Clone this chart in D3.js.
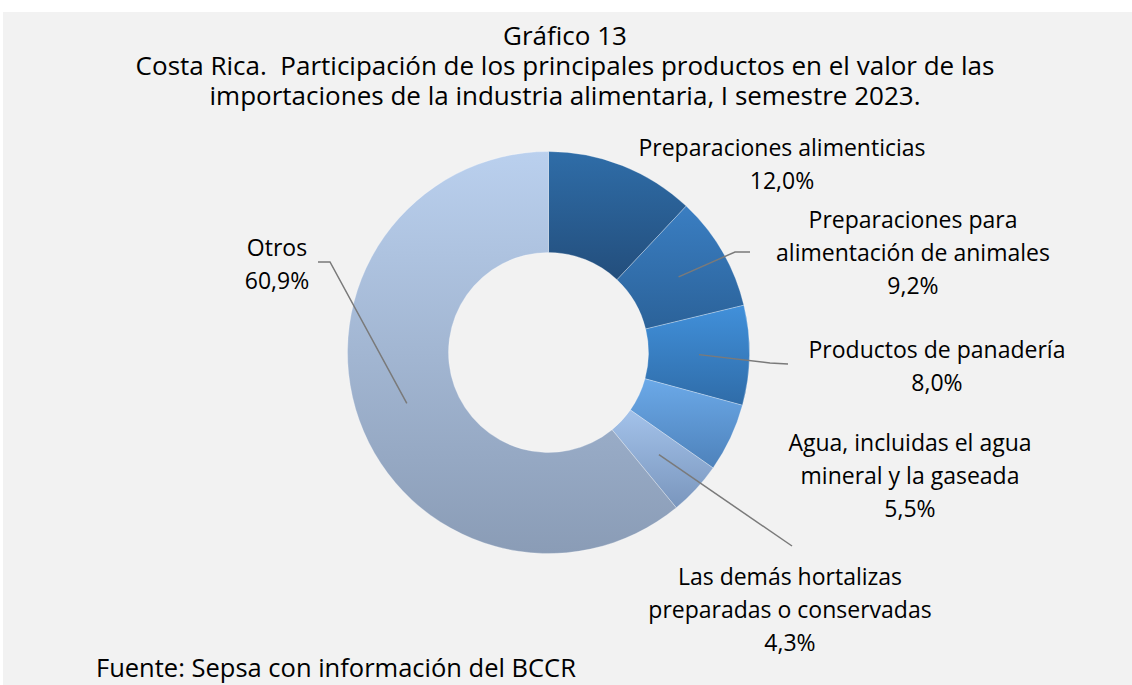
<!DOCTYPE html>
<html>
<head>
<meta charset="utf-8">
<script src="https://cdn.jsdelivr.net/npm/d3@7"></script>
<style>
  body { margin: 0; background: #ffffff; }
  svg { display: block; }
  text { font-family: "Open Sans", Lato, sans-serif; fill: #000; white-space: pre; }
</style>
</head>
<body>
<div id="chart"></div>
<script>
// Data
const categories = [
    ["Preparaciones alimenticias"],
    ["Preparaciones para", "alimentación de animales"],
    ["Productos de panadería"],
    ["Agua, incluidas el agua", "mineral y la gaseada"],
    ["Las demás hortalizas", "preparadas o conservadas"],
    ["Otros"]
];
const values = [12.0, 9.2, 8.0, 5.5, 4.3, 60.9];
const valueLabels = ["12,0%", "9,2%", "8,0%", "5,5%", "4,3%", "60,9%"];
const titleLines = [
    "Gráfico 13",
    "Costa Rica.  Participación de los principales productos en el valor de las",
    "importaciones de la industria alimentaria, I semestre 2023."
];
const sourceText = "Fuente: Sepsa con información del BCCR";

// Colors (top, bottom) for each slice gradient
const sliceColors = [
    ["#2f6da8", "#234e7c"],
    ["#3a7ec2", "#2b6299"],
    ["#4190da", "#2f6ca8"],
    ["#6ba9e8", "#4e82bb"],
    ["#a3c2ea", "#7a96bd"],
    ["#bad0ee", "#8a9cb6"]
];

const W = 1132, H = 685;
const cx = 548.5, cy = 352.5, rOuter = 201, rInner = 100;

// Label layout: center x, first line y; leader: elbow points (null = no leader)
const labelPos = [
    { x: 782, y: 156, leader: null },
    { x: 913, y: 228, leader: [[735, 252], [750, 252]] },
    { x: 937, y: 358, leader: [[770, 363], [788, 364]] },
    { x: 910, y: 451, leader: null },
    { x: 790, y: 585, leader: [[792, 546]] },
    { x: 277, y: 256, leader: [[330, 262], [318, 262]] }
];
const lineH = 33;

const svg = d3.select("#chart").append("svg")
    .attr("width", W).attr("height", H);

svg.append("rect")
    .attr("x", 3).attr("y", 12)
    .attr("width", W - 3).attr("height", H - 12)
    .attr("fill", "#f2f2f2");

// Gradients
const defs = svg.append("defs");
sliceColors.forEach((c, i) => {
    const g = defs.append("linearGradient")
        .attr("id", "grad" + i)
        .attr("x1", 0).attr("y1", 0).attr("x2", 0).attr("y2", 1);
    g.append("stop").attr("offset", "0%").attr("stop-color", c[0]);
    g.append("stop").attr("offset", "100%").attr("stop-color", c[1]);
});

// Title
svg.append("g").selectAll("text")
    .data(titleLines)
    .enter().append("text")
    .attr("x", 565)
    .attr("y", (d, i) => 45 + i * 30)
    .attr("text-anchor", "middle")
    .style("font-size", "26px")
    .text(d => d);

// Donut
const pie = d3.pie().sort(null).value(d => d);
const arc = d3.arc().innerRadius(rInner).outerRadius(rOuter);
const arcs = pie(values);

const g = svg.append("g").attr("transform", `translate(${cx},${cy})`);
g.selectAll("path")
    .data(arcs)
    .enter().append("path")
    .attr("d", arc)
    .attr("fill", (d, i) => `url(#grad${i})`)
    .attr("stroke", "rgba(255,255,255,0.35)")
    .attr("stroke-width", 0.8);

// Leader lines
const line = d3.line();
arcs.forEach((d, i) => {
    const lp = labelPos[i];
    if (!lp.leader) return;
    const c = arc.centroid(d);
    const pts = [[cx + c[0], cy + c[1]]].concat(lp.leader);
    svg.append("path")
        .attr("d", line(pts))
        .attr("fill", "none")
        .attr("stroke", "#7a7a7a")
        .attr("stroke-width", 1.5);
});

// Labels
categories.forEach((lines, i) => {
    const lp = labelPos[i];
    const all = lines.concat([valueLabels[i]]);
    svg.append("g").selectAll("text")
        .data(all)
        .enter().append("text")
        .attr("x", lp.x)
        .attr("y", (d, k) => lp.y + k * lineH)
        .attr("text-anchor", "middle")
        .style("font-size", "23px")
        .text(d => d);
});

// Source
svg.append("text")
    .attr("x", 96).attr("y", 677)
    .style("font-size", "25.5px")
    .text(sourceText);
</script>
</body>
</html>
